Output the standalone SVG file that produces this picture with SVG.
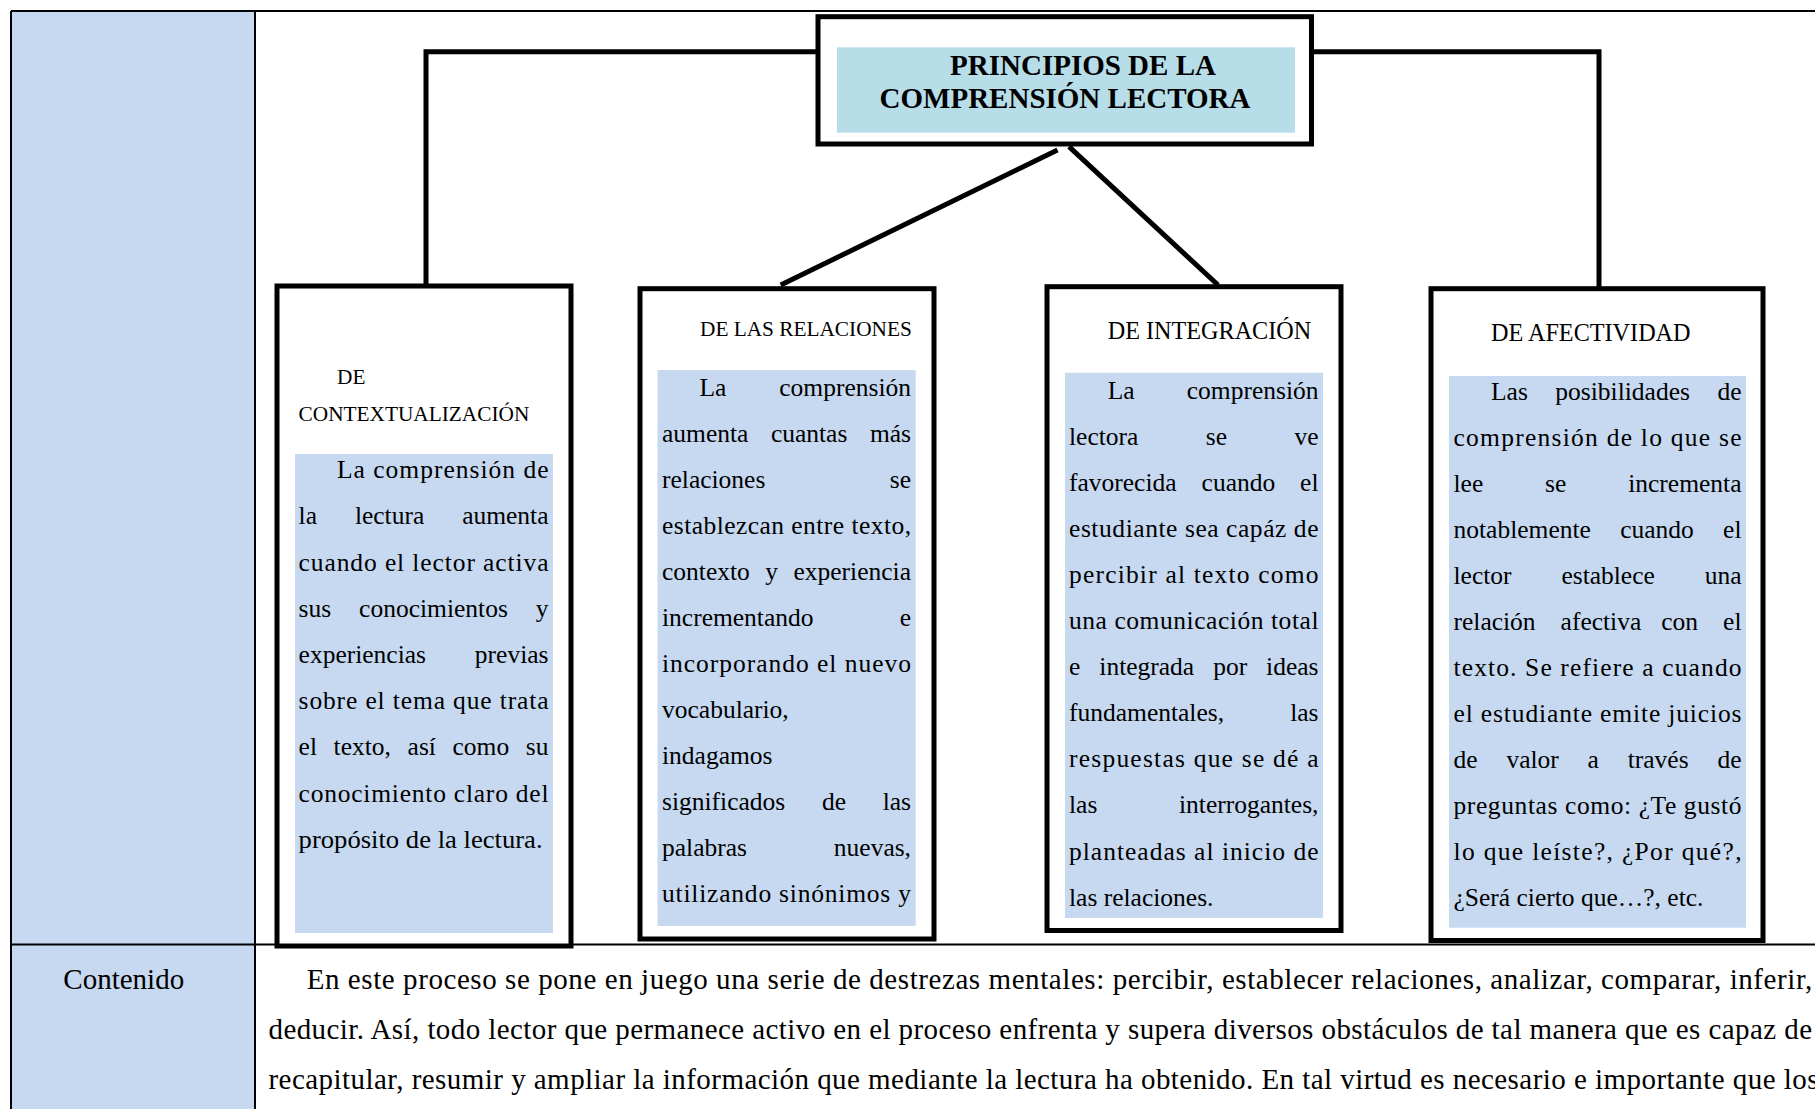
<svg xmlns="http://www.w3.org/2000/svg" width="1815" height="1109" viewBox="0 0 1815 1109">
<style>
text{font-family:"Liberation Serif","Times New Roman",serif;fill:#000}
.b{font-size:25.5px}
.r{font-size:25.5px;text-anchor:end}
.h1{font-size:21.3px}
.h2{font-size:24.2px}
.t{font-size:29px;font-weight:bold;text-anchor:middle}
.c{font-size:29px}
.box{fill:#fff;stroke:#000;stroke-width:5}
.fill{fill:#c6d9f1}
.tl{stroke:#000;stroke-width:2;fill:none}
.con{stroke:#000;stroke-width:5;fill:none}
</style>
<rect x="0" y="0" width="1815" height="1109" fill="#fff"/>
<g id="table">
<rect x="11" y="11" width="244" height="1098" class="fill"/>
<line x1="11" y1="11" x2="1815" y2="11" class="tl"/>
<line x1="11" y1="11" x2="11" y2="1109" class="tl"/>
<line x1="255" y1="11" x2="255" y2="1109" class="tl"/>
<line x1="11" y1="944.5" x2="1815" y2="944.5" class="tl"/>
</g>
<g id="connectors">
<polyline points="818,51.7 426,51.7 426,286" class="con"/>
<polyline points="1311,51.7 1599,51.7 1599,287" class="con"/>
<line x1="1057.5" y1="150" x2="780.7" y2="285" class="con"/>
<line x1="1069" y1="146.7" x2="1218" y2="285" class="con"/>
</g>
<g id="title">
<rect x="818" y="16.7" width="493.5" height="127.3" class="box"/>
<rect x="837" y="47.3" width="458" height="85.4" fill="#b7dde8"/>
<text x="1083" y="75" class="t">PRINCIPIOS DE LA</text>
<text x="1065" y="107.5" class="t">COMPRENSIÓN LECTORA</text>
</g>
<g id="contextualizacion">
<rect x="277" y="286" width="294" height="660" class="box"/>
<rect x="295" y="454" width="258" height="479" class="fill"/>
<text x="337" y="384" class="h1">DE</text>
<text x="298.6" y="421" class="h1">CONTEXTUALIZACIÓN</text>
<text x="337" y="478" class="b" textLength="211.5" lengthAdjust="spacing">La comprensión de</text>
<text y="524" class="b"><tspan x="298.6">la</tspan><tspan x="354.9">lectura</tspan></text><text x="548.5" y="524" class="r">aumenta</text>
<text x="298.6" y="571" class="b" textLength="249.9" lengthAdjust="spacing">cuando el lector activa</text>
<text y="617" class="b"><tspan x="298.6">sus</tspan><tspan x="359.1">conocimientos</tspan></text><text x="548.5" y="617" class="r">y</text>
<text x="298.6" y="663" class="b">experiencias</text><text x="548.5" y="663" class="r">previas</text>
<text x="298.6" y="709" class="b" textLength="249.9" lengthAdjust="spacing">sobre el tema que trata</text>
<text y="755" class="b"><tspan x="298.6">el</tspan><tspan x="333.6">texto,</tspan><tspan x="407.6">así</tspan><tspan x="452.5">como</tspan></text><text x="548.5" y="755" class="r">su</text>
<text x="298.6" y="802" class="b" textLength="249.9" lengthAdjust="spacing">conocimiento claro del</text>
<text x="298.6" y="848" class="b" textLength="244" lengthAdjust="spacingAndGlyphs">propósito de la lectura.</text>
</g>
<g id="relaciones">
<rect x="640" y="288.7" width="294" height="650.3" class="box"/>
<rect x="657.5" y="370" width="258.2" height="556" class="fill"/>
<text x="700" y="336" class="h1">DE LAS RELACIONES</text>
<text x="699.5" y="396" class="b">La</text><text x="911" y="396" class="r">comprensión</text>
<text y="442" class="b"><tspan x="662">aumenta</tspan><tspan x="770.9">cuantas</tspan></text><text x="911" y="442" class="r">más</text>
<text x="662" y="488" class="b">relaciones</text><text x="911" y="488" class="r">se</text>
<text x="662" y="534" class="b" textLength="249" lengthAdjust="spacing">establezcan entre texto,</text>
<text y="580" class="b"><tspan x="662">contexto</tspan><tspan x="765.3">y</tspan></text><text x="911" y="580" class="r">experiencia</text>
<text x="662" y="626" class="b">incrementando</text><text x="911" y="626" class="r">e</text>
<text x="662" y="672" class="b" textLength="249" lengthAdjust="spacing">incorporando el nuevo</text>
<text x="662" y="718" class="b">vocabulario,</text>
<text x="662" y="764" class="b">indagamos</text>
<text y="810" class="b"><tspan x="662">significados</tspan><tspan x="821.9">de</tspan></text><text x="911" y="810" class="r">las</text>
<text x="662" y="856" class="b">palabras</text><text x="911" y="856" class="r">nuevas,</text>
<text x="662" y="902" class="b" textLength="249" lengthAdjust="spacing">utilizando sinónimos y</text>
</g>
<g id="integracion">
<rect x="1047" y="286.7" width="294" height="643.8" class="box"/>
<rect x="1065" y="372.7" width="258" height="545.3" class="fill"/>
<text x="1107.7" y="339.3" class="h2">DE INTEGRACIÓN</text>
<text x="1107.7" y="399" class="b">La</text><text x="1318.5" y="399" class="r">comprensión</text>
<text y="445" class="b"><tspan x="1069">lectora</tspan><tspan x="1205.8">se</tspan></text><text x="1318.5" y="445" class="r">ve</text>
<text y="491" class="b"><tspan x="1069">favorecida</tspan><tspan x="1201.6">cuando</tspan></text><text x="1318.5" y="491" class="r">el</text>
<text x="1069" y="537" class="b" textLength="249.5" lengthAdjust="spacing">estudiante sea capáz de</text>
<text x="1069" y="583" class="b" textLength="249.5" lengthAdjust="spacing">percibir al texto como</text>
<text x="1069" y="629" class="b" textLength="249.5" lengthAdjust="spacing">una comunicación total</text>
<text y="675" class="b"><tspan x="1069">e</tspan><tspan x="1099.3">integrada</tspan><tspan x="1213.2">por</tspan></text><text x="1318.5" y="675" class="r">ideas</text>
<text x="1069" y="721" class="b">fundamentales,</text><text x="1318.5" y="721" class="r">las</text>
<text x="1069" y="767" class="b" textLength="249.5" lengthAdjust="spacing">respuestas que se dé a</text>
<text x="1069" y="813" class="b">las</text><text x="1318.5" y="813" class="r">interrogantes,</text>
<text x="1069" y="860" class="b" textLength="249.5" lengthAdjust="spacing">planteadas al inicio de</text>
<text x="1069" y="906" class="b">las relaciones.</text>
</g>
<g id="afectividad">
<rect x="1431" y="288.7" width="332" height="651.8" class="box"/>
<rect x="1449" y="376" width="297" height="551.7" class="fill"/>
<text x="1491" y="340.7" class="h2">DE AFECTIVIDAD</text>
<text y="400" class="b"><tspan x="1491">Las</tspan><tspan x="1555.3">posibilidades</tspan></text><text x="1741.5" y="400" class="r">de</text>
<text x="1453.5" y="446" class="b" textLength="288" lengthAdjust="spacing">comprensión de lo que se</text>
<text y="492" class="b"><tspan x="1453.5">lee</tspan><tspan x="1545.1">se</tspan></text><text x="1741.5" y="492" class="r">incrementa</text>
<text y="538" class="b"><tspan x="1453.5">notablemente</tspan><tspan x="1620.2">cuando</tspan></text><text x="1741.5" y="538" class="r">el</text>
<text y="584" class="b"><tspan x="1453.5">lector</tspan><tspan x="1561.4">establece</tspan></text><text x="1741.5" y="584" class="r">una</text>
<text y="630" class="b"><tspan x="1453.5">relación</tspan><tspan x="1560.6">afectiva</tspan><tspan x="1661.2">con</tspan></text><text x="1741.5" y="630" class="r">el</text>
<text x="1453.5" y="676" class="b" textLength="288" lengthAdjust="spacing">texto. Se refiere a cuando</text>
<text x="1453.5" y="722" class="b" textLength="288" lengthAdjust="spacing">el estudiante emite juicios</text>
<text y="768" class="b"><tspan x="1453.5">de</tspan><tspan x="1506.4">valor</tspan><tspan x="1587.6">a</tspan><tspan x="1627.7">través</tspan></text><text x="1741.5" y="768" class="r">de</text>
<text x="1453.5" y="814" class="b" textLength="288" lengthAdjust="spacing">preguntas como: ¿Te gustó</text>
<text x="1453.5" y="860" class="b" textLength="288" lengthAdjust="spacing">lo que leíste?, ¿Por qué?,</text>
<text x="1453.5" y="906" class="b">¿Será cierto que…?, etc.</text>
</g>
<g id="contenido">
<text x="63.3" y="989" class="c">Contenido</text>
<text x="306.7" y="989" class="c" textLength="1505.5" lengthAdjust="spacing">En este proceso se pone en juego una serie de destrezas mentales: percibir, establecer relaciones, analizar, comparar, inferir,</text>
<text x="268.5" y="1039" class="c" textLength="1543.5" lengthAdjust="spacing">deducir. Así, todo lector que permanece activo en el proceso enfrenta y supera diversos obstáculos de tal manera que es capaz de</text>
<text x="268.5" y="1089" class="c" textLength="1550" lengthAdjust="spacing">recapitular, resumir y ampliar la información que mediante la lectura ha obtenido. En tal virtud es necesario e importante que los</text>
</g>
</svg>
